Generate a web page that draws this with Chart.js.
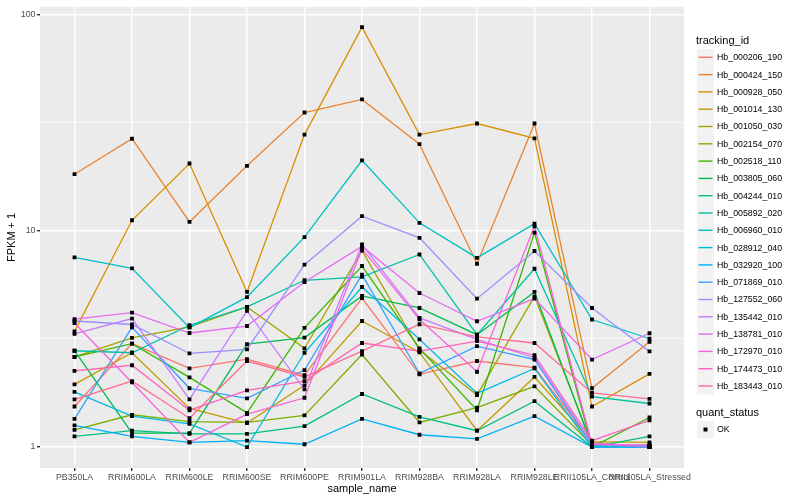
<!DOCTYPE html>
<html>
<head>
<meta charset="utf-8">
<script src="https://cdn.jsdelivr.net/npm/chart.js@4.4.1/dist/chart.umd.min.js"></script>
<style>
  html, body { margin: 0; padding: 0; background: #ffffff; }
  #c { display: block; }
</style>
</head>
<body>
<canvas id="c" width="800" height="500"></canvas>
<script>
// ---------------- data ----------------
const categories = ["PB350LA", "RRIM600LA", "RRIM600LE", "RRIM600SE", "RRIM600PE", "RRIM901LA",
  "RRIM928BA", "RRIM928LA", "RRIM928LE", "RRII105LA_Control", "RRII105LA_Stressed"];

const trackingIds = ["Hb_000206_190", "Hb_000424_150", "Hb_000928_050", "Hb_001014_130", "Hb_001050_030",
  "Hb_002154_070", "Hb_002518_110", "Hb_003805_060", "Hb_004244_010", "Hb_005892_020",
  "Hb_006960_010", "Hb_028912_040", "Hb_032920_100", "Hb_071869_010", "Hb_127552_060",
  "Hb_135442_010", "Hb_138781_010", "Hb_172970_010", "Hb_174473_010", "Hb_183443_010"];

// FPKM + 1 per sample (order of categories)
const Hb_000206_190 = [1.54, 3.01, 2.31, 2.55, 2.15, 4.89, 2.17, 2.50, 2.33, 1.05, 1.00];
const Hb_000424_150 = [18.3, 26.7, 11.0, 20.0, 35.3, 40.6, 25.2, 7.05, 31.4, 1.87, 3.07];
const Hb_000928_050 = [3.43, 11.2, 20.5, 5.22, 27.9, 87.7, 27.9, 31.4, 26.8, 1.54, 2.18];
const Hb_001014_130 = [1.95, 2.73, 1.51, 1.29, 1.93, 3.83, 2.74, 1.19, 2.11, 1.06, 1.05];
const Hb_001050_030 = [2.61, 3.20, 3.60, 4.45, 2.86, 8.11, 2.81, 1.74, 4.98, 1.03, 1.01];
const Hb_002154_070 = [1.20, 1.41, 1.31, 1.30, 1.40, 2.68, 1.30, 1.52, 1.91, 1.02, 1.00];
const Hb_002518_110 = [2.61, 3.01, 2.10, 1.44, 3.56, 6.88, 2.86, 1.48, 9.82, 1.00, 1.37];
const Hb_003805_060 = [2.79, 1.16, 1.16, 2.99, 3.21, 5.00, 4.40, 3.31, 5.22, 1.01, 1.02];
const Hb_004244_010 = [1.12, 1.19, 1.15, 1.15, 1.25, 1.76, 1.38, 1.19, 1.63, 1.00, 1.12];
const Hb_005892_020 = [2.79, 2.73, 3.66, 4.45, 5.91, 6.13, 7.78, 3.31, 6.68, 1.71, 1.59];
const Hb_006960_010 = [7.55, 6.71, 3.57, 4.94, 9.36, 21.2, 10.9, 7.50, 10.8, 3.89, 3.17];
const Hb_028912_040 = [1.80, 1.39, 1.28, 1.00, 2.73, 5.50, 3.15, 1.77, 2.31, 1.00, 1.00];
const Hb_032920_100 = [1.26, 1.12, 1.05, 1.07, 1.03, 1.35, 1.14, 1.09, 1.39, 1.00, 1.00];
const Hb_071869_010 = [1.35, 3.58, 1.87, 1.68, 2.27, 6.28, 2.19, 2.93, 2.54, 1.02, 1.01];
const Hb_127552_060 = [3.83, 3.69, 2.71, 2.83, 6.98, 11.7, 9.28, 4.86, 8.07, 4.40, 2.77];
const Hb_135442_010 = [3.34, 3.93, 1.66, 4.27, 1.85, 8.65, 3.96, 3.15, 2.59, 1.04, 1.00];
const Hb_138781_010 = [3.91, 4.19, 3.37, 3.63, 5.80, 8.48, 5.16, 3.82, 4.86, 2.54, 3.36];
const Hb_172970_010 = [3.75, 1.99, 1.05, 1.42, 1.69, 8.25, 3.90, 2.23, 10.5, 1.03, 1.02];
const Hb_174473_010 = [2.25, 2.39, 1.48, 1.83, 2.02, 3.03, 2.78, 3.09, 2.66, 1.07, 1.33];
const Hb_183443_010 = [1.66, 2.02, 1.36, 2.50, 2.11, 2.78, 3.70, 3.23, 3.03, 1.78, 1.67];

const seriesValues = [Hb_000206_190, Hb_000424_150, Hb_000928_050, Hb_001014_130, Hb_001050_030,
  Hb_002154_070, Hb_002518_110, Hb_003805_060, Hb_004244_010, Hb_005892_020,
  Hb_006960_010, Hb_028912_040, Hb_032920_100, Hb_071869_010, Hb_127552_060,
  Hb_135442_010, Hb_138781_010, Hb_172970_010, Hb_174473_010, Hb_183443_010];

const yTickValues = [1, 10, 100];
const yMinorTickValues = [3.1623, 31.623];
const quantStatus = ["OK"];

// ---------------- styles ----------------
const palette = ["#F8766D", "#EA8331", "#D89000", "#C09B00", "#A3A500", "#7CAE00", "#39B600", "#00BB4E",
  "#00BF7D", "#00C1A3", "#00BFC4", "#00BAE0", "#00B0F6", "#35A2FF", "#9590FF", "#C77CFF",
  "#E76BF3", "#FA62DB", "#FF62BC", "#FF6C91"];
const FONT = '"Liberation Sans", Arial, Helvetica, sans-serif';

const lineDatasets = seriesValues.map((vals, i) => ({
  label: trackingIds[i],
  data: vals.map((v, j) => ({ x: j, y: v })),
  borderColor: palette[i],
  backgroundColor: palette[i],
  borderWidth: 1.3,
  pointRadius: 0,
  fill: false,
  tension: 0,
  order: 100 - i
}));

const pointDataset = {
  label: quantStatus[0],
  data: seriesValues.flatMap(vals => vals.map((v, j) => ({ x: j, y: v }))),
  showLine: false,
  pointStyle: 'rect',
  pointRadius: 2.7,
  pointBorderWidth: 0,
  pointBackgroundColor: '#000000',
  pointBorderColor: '#000000',
  order: 0
};

const isMajor = v => yTickValues.some(t => Math.abs(t - v) < 1e-6);

const panelBg = {
  id: 'panelBg',
  beforeDraw(chart) {
    const { ctx, chartArea: a } = chart;
    ctx.save();
    ctx.fillStyle = '#ffffff';
    ctx.fillRect(0, 0, chart.width, chart.height);
    ctx.fillStyle = '#EBEBEB';
    ctx.fillRect(a.left, a.top, a.right - a.left, a.bottom - a.top);
    ctx.restore();
  }
};

const decorations = {
  id: 'decorations',
  afterDraw(chart) {
    const { ctx, chartArea: a } = chart;
    ctx.save();
    // axis titles
    ctx.fillStyle = '#000000';
    ctx.font = '11px ' + FONT;
    ctx.textAlign = 'center';
    ctx.textBaseline = 'middle';
    ctx.fillText('sample_name', (a.left + a.right) / 2, 489);
    ctx.save();
    ctx.translate(12, (a.top + a.bottom) / 2);
    ctx.rotate(-Math.PI / 2);
    ctx.fillText('FPKM + 1', 0, 0);
    ctx.restore();

    // legend: tracking_id
    const lx = 697, kw = 17, step = 17.3;
    let y0 = 57.3;
    ctx.textAlign = 'left';
    ctx.font = '11px ' + FONT;
    ctx.fillText('tracking_id', 696, 40.5);
    ctx.font = '8.8px ' + FONT;
    trackingIds.forEach((id, i) => {
      const cy = y0 + i * step;
      ctx.fillStyle = '#F2F2F2';
      ctx.fillRect(lx, cy - kw / 2, kw, kw);
      ctx.strokeStyle = palette[i];
      ctx.lineWidth = 1.4;
      ctx.beginPath();
      ctx.moveTo(lx + 1.5, cy);
      ctx.lineTo(lx + kw - 1.5, cy);
      ctx.stroke();
      ctx.fillStyle = '#000000';
      ctx.fillText(id, 717, cy + 0.5);
    });

    // legend: quant_status
    ctx.font = '11px ' + FONT;
    ctx.fillText('quant_status', 696, 412.5);
    const qy = 429.5;
    ctx.fillStyle = '#F2F2F2';
    ctx.fillRect(lx, qy - kw / 2, kw, kw);
    ctx.fillStyle = '#000000';
    ctx.fillRect(lx + kw / 2 - 2, qy - 2, 4, 4);
    ctx.font = '8.8px ' + FONT;
    ctx.fillText(quantStatus[0], 717, qy + 0.5);
    ctx.restore();
  }
};

new Chart(document.getElementById('c'), {
  type: 'line',
  data: { datasets: [pointDataset, ...lineDatasets] },
  options: {
    responsive: false,
    animation: false,
    devicePixelRatio: 1,
    layout: { padding: { top: 5, right: 116, bottom: 0, left: 0 } },
    plugins: { legend: { display: false }, tooltip: { enabled: false } },
    scales: {
      x: {
        type: 'linear',
        min: -0.6,
        max: categories.length - 1 + 0.6,
        bounds: 'data',
        afterFit(scale) { scale.height = 32; },
        afterBuildTicks(scale) { scale.ticks = categories.map((c, i) => ({ value: i })); },
        ticks: {
          autoSkip: false, maxRotation: 0, minRotation: 0,
          color: '#4D4D4D', padding: 1.5,
          font: { family: FONT, size: 8.8 },
          callback: (v) => categories[v] !== undefined ? categories[v] : ''
        },
        grid: { color: '#ffffff', lineWidth: 1.4, tickLength: 3, tickColor: '#333333', drawTicks: true },
        border: { display: false }
      },
      y: {
        type: 'logarithmic',
        min: Math.pow(10, -0.097),
        max: Math.pow(10, 2.037),
        bounds: 'data',
        afterFit(scale) { scale.width = 40; },
        afterBuildTicks(scale) {
          scale.ticks = [...yTickValues, ...yMinorTickValues].sort((a, b) => a - b).map(v => ({ value: v }));
        },
        ticks: {
          autoSkip: false, color: '#4D4D4D', padding: 1.5,
          font: { family: FONT, size: 8.8 },
          callback: (v) => isMajor(v) ? String(Math.round(v)) : ''
        },
        grid: {
          color: '#ffffff',
          lineWidth: (ctx) => (ctx.tick && isMajor(ctx.tick.value)) ? 1.4 : 0.7,
          tickLength: 3,
          tickColor: (ctx) => (ctx.tick && isMajor(ctx.tick.value)) ? '#333333' : 'rgba(0,0,0,0)'
        },
        border: { display: false }
      }
    }
  },
  plugins: [panelBg, decorations]
});
</script>
</body>
</html>
